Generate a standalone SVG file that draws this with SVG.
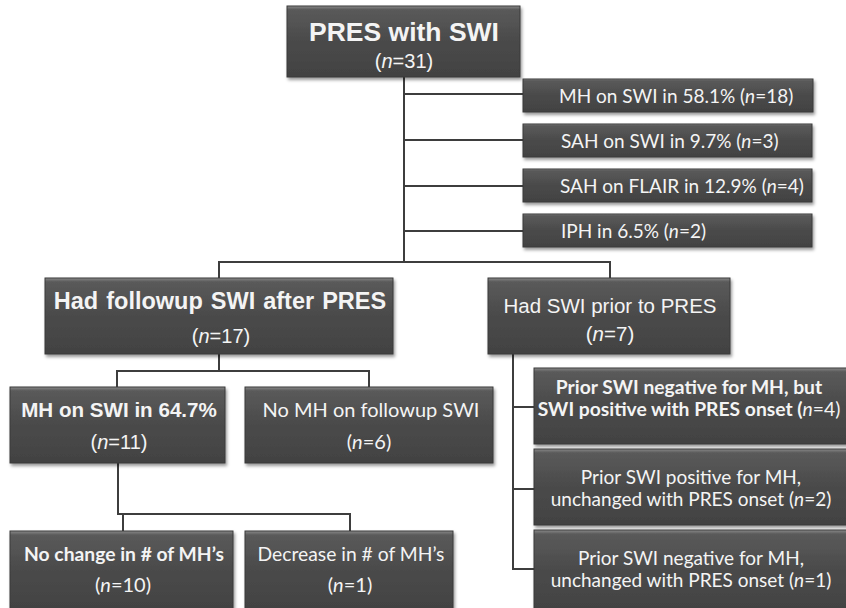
<svg xmlns="http://www.w3.org/2000/svg" width="846" height="608" viewBox="0 0 846 608">
<defs>
<linearGradient id="g" x1="0" y1="0" x2="0" y2="1">
<stop offset="0" stop-color="#8a8a8a"/>
<stop offset="0.05" stop-color="#5a5a5a"/>
<stop offset="0.5" stop-color="#4a4a4a"/>
<stop offset="1" stop-color="#424242"/>
</linearGradient>
<filter id="sh" x="-10%" y="-10%" width="120%" height="130%">
<feDropShadow dx="1.5" dy="2.5" stdDeviation="1.8" flood-color="#000" flood-opacity="0.4"/>
</filter>
</defs>
<style>
.box{fill:url(#g);stroke:#3a3a3a;stroke-width:1;filter:url(#sh)}
.c{fill:none;stroke:#3d3d3d;stroke-width:2}
text{fill:#f4f4f4}
.a{font-family:"Liberation Sans",Arial,sans-serif}
.b{font-family:"Liberation Sans",Arial,sans-serif;font-weight:bold}
.k{font-family:Lato,"Open Sans",sans-serif}
.kb{font-family:Lato,"Open Sans",sans-serif;font-weight:bold}
.m{text-anchor:middle}
.i{font-style:italic}
</style>
<rect width="846" height="608" fill="#ffffff"/>
<g id="connectors">
<path class="c" d="M404 77 V262"/>
<path class="c" d="M404 94 H523 M404 140 H523 M404 186 H523 M404 231 H523"/>
<path class="c" d="M219 278 V262 H610 V278"/>
<path class="c" d="M219 354 V371"/>
<path class="c" d="M117 387 V371 H369 V387"/>
<path class="c" d="M118 463 V514 H350 V531 M123 514 V531"/>
<path class="c" d="M513 354 V569 H534 M513 407 H534 M513 489 H534"/>
</g>
<g id="n-top">
<rect class="box" x="287" y="6" width="233" height="71"/>
<text class="b m" x="404" y="41" font-size="26.5">PRES with SWI</text>
<text class="a m" x="404" y="68" font-size="20">(<tspan class="i">n</tspan>=31)</text>
</g>
<g id="n-r1">
<rect class="box" x="523" y="79" width="290" height="33"/>
<text class="k" x="559" y="103" font-size="19">MH on SWI in 58.1% (<tspan class="i">n</tspan>=18)</text>
</g>
<g id="n-r2">
<rect class="box" x="523" y="124" width="289" height="33"/>
<text class="k" x="561" y="148" font-size="19">SAH on SWI in 9.7% (<tspan class="i">n</tspan>=3)</text>
</g>
<g id="n-r3">
<rect class="box" x="523" y="169" width="289" height="33"/>
<text class="k" x="560" y="193" font-size="19">SAH on FLAIR in 12.9% (<tspan class="i">n</tspan>=4)</text>
</g>
<g id="n-r4">
<rect class="box" x="523" y="214" width="289" height="33"/>
<text class="k" x="561" y="238" font-size="19">IPH in 6.5% (<tspan class="i">n</tspan>=2)</text>
</g>
<g id="n-followup">
<rect class="box" x="45" y="278" width="348" height="76"/>
<text class="b m" x="220" y="309" font-size="23.5" word-spacing="1.5">Had followup SWI after PRES</text>
<text class="a m" x="221" y="343" font-size="20">(<tspan class="i">n</tspan>=17)</text>
</g>
<g id="n-prior">
<rect class="box" x="488" y="278" width="242" height="76"/>
<text class="a m" x="610" y="313" font-size="20.5">Had SWI prior to PRES</text>
<text class="a m" x="610" y="341" font-size="20.5">(<tspan class="i">n</tspan>=7)</text>
</g>
<g id="n-mh">
<rect class="box" x="10" y="387" width="215" height="76"/>
<text class="b m" x="119" y="417" font-size="20.6">MH on SWI in 64.7%</text>
<text class="a m" x="119" y="449" font-size="20">(<tspan class="i">n</tspan>=11)</text>
</g>
<g id="n-nomh">
<rect class="box" x="245" y="387" width="248" height="76"/>
<text class="k m" x="371" y="417" font-size="20">No MH on followup SWI</text>
<text class="k m" x="369" y="449" font-size="20">(<tspan class="i">n</tspan>=6)</text>
</g>
<g id="n-nochange">
<rect class="box" x="10" y="531" width="223" height="80"/>
<text class="kb m" x="124" y="561" font-size="19.3">No change in # of MH’s</text>
<text class="k m" x="123" y="592" font-size="20">(<tspan class="i">n</tspan>=10)</text>
</g>
<g id="n-decrease">
<rect class="box" x="245" y="531" width="208" height="80"/>
<text class="k m" x="351" y="561" font-size="19.3">Decrease in # of MH’s</text>
<text class="k m" x="350" y="592" font-size="20">(<tspan class="i">n</tspan>=1)</text>
</g>
<g id="n-p1">
<rect class="box" x="534" y="368" width="314" height="76"/>
<text class="kb m" x="689" y="394" font-size="19.3">Prior SWI negative for MH, but</text>
<text class="kb m" x="689" y="416" font-size="19.3">SWI positive with PRES onset (<tspan class="i" font-weight="normal">n</tspan><tspan font-weight="normal">=4)</tspan></text>
</g>
<g id="n-p2">
<rect class="box" x="534" y="449" width="314" height="76"/>
<text class="k m" x="691" y="484" font-size="19">Prior SWI positive for MH,</text>
<text class="k m" x="691" y="506" font-size="19">unchanged with PRES onset (<tspan class="i">n</tspan>=2)</text>
</g>
<g id="n-p3">
<rect class="box" x="534" y="530" width="314" height="82"/>
<text class="k m" x="691" y="565" font-size="19">Prior SWI negative for MH,</text>
<text class="k m" x="691" y="587" font-size="19">unchanged with PRES onset (<tspan class="i">n</tspan>=1)</text>
</g>
</svg>
